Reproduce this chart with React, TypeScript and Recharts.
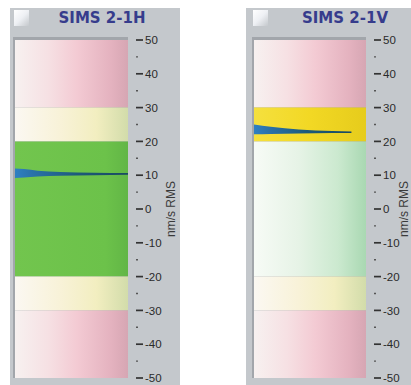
import React from 'react';
import { ComposedChart, Area, XAxis, YAxis, ReferenceArea } from 'recharts';

// ---- data ----
const panelTitles = ['SIMS 2-1H', 'SIMS 2-1V'];
const axisLabel = 'nm/s RMS';
const yTicks = [50, 45, 40, 35, 30, 25, 20, 15, 10, 5, 0, -5, -10, -15, -20, -25, -30, -35, -40, -45, -50];

// zone boundaries (value ranges) for each panel
const zoneLow = [30, 20, -20, -30, -50];
const zoneHigh = [50, 30, 20, -20, -30];
const zoneKindsH = ['pink', 'pale', 'green', 'pale', 'pink'];
const zoneKindsV = ['pink', 'yellow', 'mint', 'pale', 'pink'];

// blue wedge (horizontal position 0..100 across band, low/high values)
const wedgeHX = [0, 8, 20, 40, 70, 100];
const wedgeHLow = [9.2, 9.3, 9.6, 9.85, 10.0, 10.1];
const wedgeHHigh = [12.0, 11.8, 11.3, 10.95, 10.75, 10.65];

const wedgeVX = [0, 15, 40, 70, 87];
const wedgeVLow = [22.1, 22.2, 22.35, 22.45, 22.5];
const wedgeVHigh = [25.0, 24.3, 23.5, 23.05, 22.9];

const buildWedge = (xs: number[], lo: number[], hi: number[]) =>
  xs.map((x, i) => ({ x, range: [lo[i], hi[i]] }));

const wedgeH = buildWedge(wedgeHX, wedgeHLow, wedgeHHigh);
const wedgeV = buildWedge(wedgeVX, wedgeVLow, wedgeVHigh);

const W = 170;
const H = 377;

const Tick = (props: any) => {
  const { x, y, payload } = props;
  const v = payload.value as number;
  const major = v % 10 === 0;
  return (
    <g>
      {major ? (
        <line x1={x + 8} x2={x + 15} y1={y} y2={y} stroke="#333" strokeWidth={1.7} />
      ) : (
        <line x1={x + 8} x2={x + 10} y1={y} y2={y} stroke="#555" strokeWidth={1.4} />
      )}
      {major && (
        <text x={x + 17} y={y} dy="0.36em" fontSize={11.5} fill="#2a2a2a" fontFamily="Liberation Sans, Arial, sans-serif">
          {String(v)}
        </text>
      )}
    </g>
  );
};

const Grad = ({ id, stops }: { id: string; stops: [number, string][] }) => (
  <linearGradient id={id} x1="0" y1="0" x2="1" y2="0">
    {stops.map(([o, c], i) => (
      <stop key={i} offset={o} stopColor={c} />
    ))}
  </linearGradient>
);

const Panel = ({
  pid,
  title,
  left,
  marginLeft,
  axisWidth,
  kinds,
  wedge,
  titleCenter,
  labelDx,
}: {
  pid: string;
  title: string;
  left: number;
  marginLeft: number;
  axisWidth: number;
  kinds: string[];
  wedge: any[];
  titleCenter: number;
  labelDx: number;
}) => {
  const plotRight = W - axisWidth;
  return (
    <div style={{ position: 'absolute', left, top: 8, width: W, height: H, background: '#c4c8cc' }}>
      <div
        style={{
          position: 'absolute',
          left: marginLeft - 1,
          top: 2,
          width: 15,
          height: 16,
          background: 'linear-gradient(135deg, #ffffff 0%, #eef0f4 50%, #c4c8cc 100%)',
        }}
      />
      <div
        style={{
          position: 'absolute',
          left: titleCenter - 60,
          width: 120,
          top: 1,
          textAlign: 'center',
          fontFamily: 'DejaVu Sans, sans-serif',
          fontWeight: 'bold',
          fontSize: 15,
          lineHeight: '18px',
          color: '#363c8c',
        }}
      >
        {title}
      </div>
      <div
        style={{
          position: 'absolute',
          left: marginLeft - 2,
          top: 29,
          width: plotRight - marginLeft + 2,
          height: 341,
          background: '#a2a6ab',
        }}
      />
      <div style={{ position: 'absolute', left: 0, top: 0 }}>
        <ComposedChart
          width={W}
          height={H}
          data={wedge}
          margin={{ top: 32, right: 0, bottom: 7, left: marginLeft }}
        >
          <defs>
            <Grad
              id={`${pid}-pink`}
              stops={[
                [0, '#f7f1f0'],
                [0.3, '#f6e0e3'],
                [0.55, '#f3cad3'],
                [0.85, '#e4b2bf'],
                [1, '#d6a6b3'],
              ]}
            />
            <Grad
              id={`${pid}-pale`}
              stops={[
                [0, '#fbf8f2'],
                [0.4, '#f8f2d8'],
                [0.72, '#f2eec0'],
                [1, '#d2dcaa'],
              ]}
            />
            <Grad
              id={`${pid}-green`}
              stops={[
                [0, '#72c54e'],
                [0.8, '#6cc24a'],
                [1, '#62b646'],
              ]}
            />
            <Grad
              id={`${pid}-yellow`}
              stops={[
                [0, '#f5e03e'],
                [0.5, '#f2d824'],
                [1, '#e6cc1c'],
              ]}
            />
            <Grad
              id={`${pid}-mint`}
              stops={[
                [0, '#f7fbf6'],
                [0.4, '#e6f3e6'],
                [0.75, '#cbe9cf'],
                [1, '#a9d8b2'],
              ]}
            />
            <Grad
              id={`${pid}-wedge`}
              stops={[
                [0, '#2f80c2'],
                [0.15, '#2a72aa'],
                [0.55, '#1d5a7a'],
                [1, '#1a4a60'],
              ]}
            />
          </defs>
          <XAxis type="number" dataKey="x" domain={[0, 100]} hide />
          <YAxis
            orientation="right"
            type="number"
            domain={[-50, 50]}
            ticks={yTicks}
            interval={0}
            width={axisWidth}
            axisLine={false}
            tickLine={false}
            tickSize={0}
            tickMargin={0}
            tick={<Tick />}
            label={{
              value: axisLabel,
              angle: -90,
              position: 'center',
              dx: labelDx,
              style: { fontSize: 12, fill: '#3a3a3a', fontFamily: 'Liberation Sans, Arial, sans-serif' },
            }}
          />
          {kinds.map((k, i) => (
            <ReferenceArea
              key={i}
              y1={zoneLow[i]}
              y2={zoneHigh[i]}
              fill={`url(#${pid}-${k})`}
              fillOpacity={1}
              stroke="none"
              ifOverflow="extendDomain"
            />
          ))}
          <Area
            type="monotone"
            dataKey="range"
            stroke="none"
            fill={`url(#${pid}-wedge)`}
            fillOpacity={1}
            isAnimationActive={false}
            activeDot={false}
            dot={false}
          />
        </ComposedChart>
      </div>
    </div>
  );
};

export default function App() {
  return (
    <div
      style={{
        position: 'absolute',
        left: 0,
        top: 0,
        width: 411,
        height: 385,
        overflow: 'hidden',
        background: '#ffffff',
      }}
    >
      <Panel
        pid="h"
        title={panelTitles[0]}
        left={10}
        marginLeft={5}
        axisWidth={52}
        kinds={zoneKindsH}
        wedge={wedgeH}
        titleCenter={92}
        labelDx={17}
      />
      <Panel
        pid="v"
        title={panelTitles[1]}
        left={246}
        marginLeft={8}
        axisWidth={50}
        kinds={zoneKindsV}
        wedge={wedgeV}
        titleCenter={99}
        labelDx={13}
      />
    </div>
  );
}
